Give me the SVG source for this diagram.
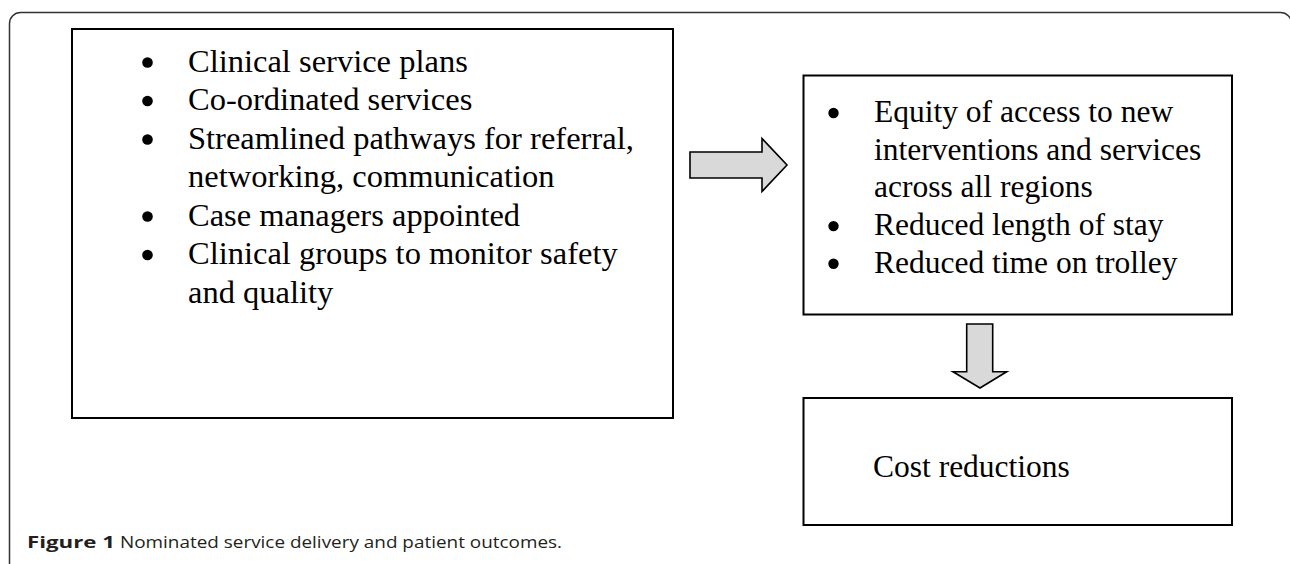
<svg xmlns="http://www.w3.org/2000/svg" width="1290" height="564" viewBox="0 0 1290 564">
<style>
.box{fill:#fff;stroke:#000;stroke-width:2}
.t{font-family:"Liberation Serif","Times New Roman",serif;font-size:31.5px;fill:#000}
.tl{font-size:32.5px}
.b{fill:#000}
.arr{fill:#d9d9d9;stroke:#000;stroke-width:1.6;stroke-linejoin:miter}
.cap{font-family:"Open Sans","Liberation Sans",sans-serif;font-size:16.5px;fill:#231f20}
</style>
<rect id="frame" x="9.5" y="12.5" width="1282" height="600" rx="11" fill="#fff" stroke="#333" stroke-width="1.5"/>
<g id="node-services">
<rect class="box" x="72" y="29" width="601" height="389"/>
<circle class="b" cx="147.5" cy="62.5" r="5.3"/>
<circle class="b" cx="147.5" cy="101" r="5.3"/>
<circle class="b" cx="147.5" cy="139.5" r="5.3"/>
<circle class="b" cx="147.5" cy="216.5" r="5.3"/>
<circle class="b" cx="147.5" cy="255" r="5.3"/>
<text class="t tl" x="188" y="71.5">Clinical service plans</text>
<text class="t tl" x="188" y="110">Co-ordinated services</text>
<text class="t tl" x="188" y="148.5">Streamlined pathways for referral,</text>
<text class="t tl" x="188" y="187">networking, communication</text>
<text class="t tl" x="188" y="225.5">Case managers appointed</text>
<text class="t tl" x="188" y="264">Clinical groups to monitor safety</text>
<text class="t tl" x="188" y="302.5">and quality</text>
</g>
<g id="node-outcomes">
<rect class="box" x="803.5" y="75.5" width="428.5" height="239"/>
<circle class="b" cx="833.5" cy="113" r="5.2"/>
<circle class="b" cx="833.5" cy="226.1" r="5.2"/>
<circle class="b" cx="833.5" cy="263.8" r="5.2"/>
<text class="t" x="874" y="122">Equity of access to new</text>
<text class="t" x="874" y="159.7">interventions and services</text>
<text class="t" x="874" y="197.4">across all regions</text>
<text class="t" x="874" y="235.1">Reduced length of stay</text>
<text class="t" x="874" y="272.8">Reduced time on trolley</text>
</g>
<g id="node-cost">
<rect class="box" x="803.5" y="398" width="428.5" height="127"/>
<text class="t" x="873" y="477">Cost reductions</text>
</g>
<g id="connectors">
<polygon class="arr" points="690,152 762,152 762,138.5 787,165 762,191.5 762,178 690,178"/>
<polygon class="arr" points="966.7,324 992.7,324 992.7,371.7 1006.7,371.7 980,388 953,371.7 966.7,371.7"/>
</g>
<g id="caption">
<text class="cap" x="27" y="547.5" font-weight="bold" textLength="88" lengthAdjust="spacingAndGlyphs">Figure 1</text>
<text class="cap" x="120" y="547.5" textLength="442" lengthAdjust="spacingAndGlyphs">Nominated service delivery and patient outcomes.</text>
</g>
</svg>
